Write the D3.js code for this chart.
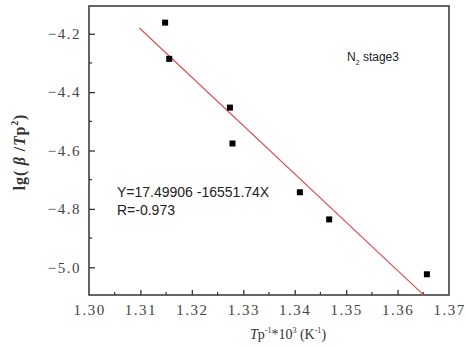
<!DOCTYPE html>
<html><head><meta charset="utf-8">
<script src="https://cdn.jsdelivr.net/npm/d3@7"></script>
<style>body{margin:0;background:#fff}svg{display:block}</style>
</head><body>
<script>
// data
const xValues = [1.3148, 1.3156, 1.3274, 1.3279, 1.3410, 1.3467, 1.3657];
const yValues = [-4.162, -4.286, -4.453, -4.576, -4.743, -4.836, -5.024];
const fitIntercept = 17.49906;
const fitSlope = -16551.74;
const fitRange = [1.3098, 1.3652];
const xTicks = [1.30, 1.31, 1.32, 1.33, 1.34, 1.35, 1.36, 1.37];
const yTicks = [-5.0, -4.8, -4.6, -4.4, -4.2];
const equationLines = ["Y=17.49906 -16551.74X", "R=-0.973"];

const W = 466, H = 347;
const m = {left: 89, right: 17, top: 6, bottom: 52};
const svg = d3.select("body").append("svg").attr("width", W).attr("height", H);

const x = d3.scaleLinear().domain([1.30, 1.37]).range([m.left, W - m.right]);
const y = d3.scaleLinear().domain([-5.095, -4.105]).range([H - m.bottom, m.top]);

const serif = "'Liberation Serif', 'Times New Roman', serif";
const axisColor = "#333";

const xMinor = d3.range(1.305, 1.37, 0.01);
const yMinor = [-4.9, -4.7, -4.5, -4.3];

const xAxis = d3.axisBottom(x).tickValues(xTicks).tickSize(-5).tickPadding(9)
  .tickFormat(d => d3.format(".2f")(d));
const gx = svg.append("g").attr("transform", `translate(0,${H - m.bottom})`).call(xAxis);
gx.attr("font-family", serif);
gx.select(".domain").remove();
gx.selectAll(".tick line").attr("stroke", axisColor).attr("stroke-width", 1.3);
gx.selectAll(".tick text").attr("font-family", serif).attr("font-size", 15).attr("fill", "#444")
  .attr("letter-spacing", "1.5px");
gx.selectAll(".tick").filter(d => d === 1.30 || d === 1.37).select("line").remove();

svg.append("g").selectAll("line").data(xMinor).join("line")
  .attr("x1", d => x(d)).attr("x2", d => x(d))
  .attr("y1", H - m.bottom).attr("y2", H - m.bottom - 3)
  .attr("stroke", axisColor).attr("stroke-width", 1.2);

const yAxis = d3.axisLeft(y).tickValues(yTicks).tickSize(-6).tickPadding(8)
  .tickFormat(d => d3.format(".1f")(d));
const gy = svg.append("g").attr("transform", `translate(${m.left},0)`).call(yAxis);
gy.attr("font-family", serif);
gy.select(".domain").remove();
gy.selectAll(".tick line").attr("stroke", axisColor).attr("stroke-width", 1.3);
gy.selectAll(".tick text").attr("font-family", serif).attr("font-size", 15).attr("fill", "#444")
  .attr("letter-spacing", "1.5px");

svg.append("g").selectAll("line").data(yMinor).join("line")
  .attr("x1", m.left).attr("x2", m.left + 3)
  .attr("y1", d => y(d)).attr("y2", d => y(d))
  .attr("stroke", axisColor).attr("stroke-width", 1.2);

// frame
svg.append("rect").attr("x", m.left).attr("y", m.top)
  .attr("width", W - m.right - m.left).attr("height", H - m.bottom - m.top)
  .attr("fill", "none").attr("stroke", axisColor).attr("stroke-width", 1.5);

// fit line
svg.append("line")
  .attr("x1", x(fitRange[0])).attr("y1", y(fitIntercept + fitSlope * fitRange[0] / 1000))
  .attr("x2", x(fitRange[1])).attr("y2", y(fitIntercept + fitSlope * fitRange[1] / 1000))
  .attr("stroke", "#e0474c").attr("stroke-width", 1.1);

// points
const s = 6;
svg.append("g").selectAll("rect").data(xValues.map((v, i) => [v, yValues[i]])).join("rect")
  .attr("x", d => x(d[0]) - s / 2).attr("y", d => y(d[1]) - s / 2)
  .attr("width", s).attr("height", s).attr("fill", "#000");

// annotations
const sans = "'Liberation Sans', Arial, sans-serif";
const lab = svg.append("text").attr("x", 347).attr("y", 61)
  .attr("font-family", sans).attr("font-size", 12).attr("fill", "#222");
lab.append("tspan").text("N");
lab.append("tspan").attr("font-size", 7).attr("dy", 4).text("2");
lab.append("tspan").attr("dy", -4).text(" stage3");

svg.append("g").selectAll("text").data(equationLines).join("text")
  .attr("x", 117).attr("y", (d, i) => 197 + i * 17.5)
  .attr("font-family", sans).attr("font-size", 14).attr("fill", "#222").text(d => d);

// axis titles
const xt = svg.append("text").attr("x", 288).attr("y", 339).attr("text-anchor", "middle")
  .attr("font-family", serif).attr("font-size", 14).attr("fill", "#333");
xt.append("tspan").attr("font-style", "italic").text("T");
xt.append("tspan").text("p");
xt.append("tspan").attr("font-size", 8).attr("dy", -6).text("-1");
xt.append("tspan").attr("dy", 6).text("*10");
xt.append("tspan").attr("font-size", 8).attr("dy", -6).text("3");
xt.append("tspan").attr("dy", 6).text(" (K");
xt.append("tspan").attr("font-size", 8).attr("dy", -6).text("-1");
xt.append("tspan").attr("dy", 6).text(")");

const yt = svg.append("text").attr("transform", "translate(25,152) rotate(-90)")
  .attr("text-anchor", "middle").attr("font-family", serif).attr("font-size", 16)
  .attr("font-weight", "bold").attr("fill", "#333").attr("letter-spacing", "0.8px");
yt.append("tspan").text("lg(");
yt.append("tspan").attr("font-style", "italic").text(" β ");
yt.append("tspan").text("/");
yt.append("tspan").attr("font-style", "italic").text("T");
yt.append("tspan").text("p");
yt.append("tspan").attr("font-size", 10).attr("dy", -7).text("2");
yt.append("tspan").attr("dy", 7).text(")");
</script>
</body></html>
